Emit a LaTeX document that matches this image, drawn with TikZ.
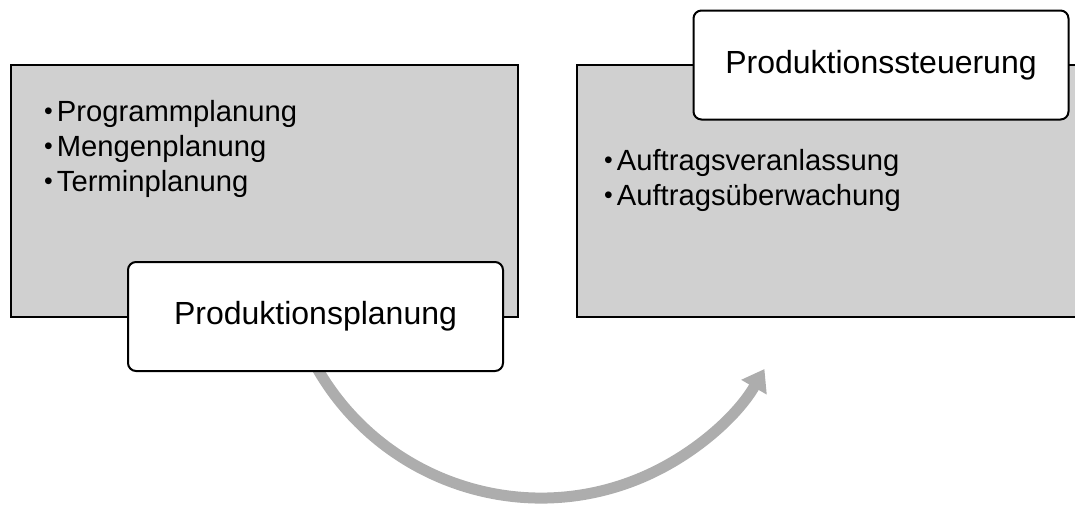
\documentclass[tikz,border=0pt]{standalone}
\usepackage{fontspec}
\setmainfont{Liberation Sans}
\usepackage{xcolor}
\usepackage{graphicx}
\usetikzlibrary{
	positioning,    % relative Platzierung
	arrows.meta,    % Pfeilspitzen
	calc            % Punkte auf dem Bogen
}
\definecolor{feldgrau}{RGB}{208,208,208}
\definecolor{pfeilgrau}{RGB}{173,173,173}
% kleiner Aufzaehlungspunkt
\newcommand{\punktzeichen}{\hspace*{0.3pt}\raisebox{0.8pt}{\scalebox{0.85}{\textbullet}}\hspace{2.1pt}}
\tikzset{
	feld/.style={draw=black, fill=feldgrau, line width=1pt},
	titel/.style={draw=black, fill=white, line width=1pt, rounded corners=4pt,
		minimum width=187.5pt, minimum height=54.5pt,
		font=\fontsize{16}{19}\selectfont},
	punkt/.style={anchor=base west, inner sep=0pt,
		font=\fontsize{14.6}{17.5}\selectfont},
	pfeil/.style={pfeilgrau, line width=5.5pt,
		-{Triangle[length=10.5pt, width=14pt]}}
}

\begin{document}
\begin{tikzpicture}[x=0.5pt, y=-0.5pt]
		% Rahmen des Bildes
		\useasboundingbox (0,0) rectangle (1075,505);
		\clip (0,0) rectangle (1075,505);
		\def\rbogen{258} % Radius des Pfeilbogens
		
		% --- Felder ---
		\draw[feld] (11,65) rectangle (518,317);
		\draw[feld] (577,65) rectangle (1090,317);
		
		% --- Aufzaehlungen ---
		\node[punkt] (prog) at (43,121) {\punktzeichen Programmplanung};
		\node[punkt] (menge) at (43,156) {\punktzeichen Mengenplanung};
		\node[punkt] (termin) at (43,191) {\punktzeichen Terminplanung};
		\node[punkt] (veranl) at (603,170) {\punktzeichen Auftragsveranlassung};
		\node[punkt] (ueberw) at (603,205) {\punktzeichen Auftragsüberwachung};
		
		% --- Pfeil ---
		% Bogen um den Mittelpunkt, Anfang liegt unter dem Titel
		\coordinate (mitte) at (541,240);
		\coordinate (anfang) at ($(mitte)+(155:\rbogen)$);
		\draw[pfeil] (anfang) arc[start angle=155, end angle=30, radius=\rbogen];
		
		% --- Titel ---
		\node[titel] (planung) at (315.5,316.5) {Produktionsplanung};
		\node[titel] (steuerung) at (881,65) {Produktionssteuerung};
	\end{tikzpicture}
\end{document}
